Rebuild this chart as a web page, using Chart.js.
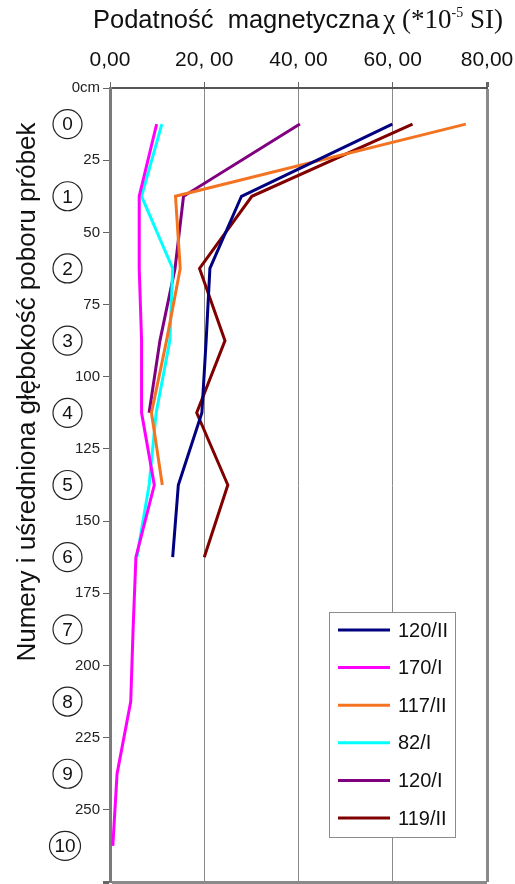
<!DOCTYPE html>
<html>
<head>
<meta charset="utf-8">
<script src="https://cdn.jsdelivr.net/npm/chart.js@4"></script>
<style>
  body { margin: 0; background: #fff; }
  #wrap { width: 515px; height: 884px; position: relative; }
</style>
</head>
<body>
<div id="wrap"><canvas id="chi"></canvas></div>
<script>
// ===== dane =====
const depths = [12.5, 37.5, 62.5, 87.5, 112.5, 137.5, 162.5, 187.5, 212.5, 237.5, 262.5];
const sampleNumbers = ['0', '1', '2', '3', '4', '5', '6', '7', '8', '9', '10'];

const s120II = [59.9, 27.9, 21.2, 20.4, 19.5, 14.5, 13.3];
const s170I  = [9.9, 6.2, 6.2, 6.7, 6.7, 9.4, 5.5, 4.9, 4.4, 1.5, 0.6];
const s117II = [75.5, 13.9, 14.9, 12.0, 8.8, 11.1];
const s82I   = [11.0, 6.7, 13.3, 12.7, 9.8, 8.3, 5.7];
const s120I  = [40.3, 15.6, 13.8, 10.6, 8.3];
const s119II = [64.2, 30.1, 19.0, 24.4, 18.4, 25.0, 20.0];

const seriesNames = ['120/II', '170/I', '117/II', '82/I', '120/I', '119/II'];
const seriesColors = ['#000080', '#ff00ff', '#f47321', '#00ffff', '#800080', '#800000'];

const xTickValues = [0, 20, 40, 60, 80];
const xTickLabels = ['0,00', '20, 00', '40, 00', '60, 00', '80,00'];
const yTickValues = [0, 25, 50, 75, 100, 125, 150, 175, 200, 225, 250, 275];
const yTickLabels = ['0cm', '25', '50', '75', '100', '125', '150', '175', '200', '225', '250', ''];

const SANS = "'Liberation Sans', Arial, sans-serif";
const SERIF = "'Liberation Serif', 'Times New Roman', serif";

function toPoints(vals) {
  return vals.map((v, i) => ({ x: v, y: depths[i] }));
}

// ===== tytuły, kółka z numerami, legenda =====
const decorPlugin = {
  id: 'decor',
  afterDraw(chart) {
    const ctx = chart.ctx;
    const ys = chart.scales.y;
    ctx.save();

    // tytuł u góry
    ctx.fillStyle = '#111';
    ctx.textBaseline = 'alphabetic';
    ctx.textAlign = 'left';
    let x = 93;
    const base = 28;
    ctx.font = '25.5px ' + SANS;
    const t1 = 'Podatność  magnetyczna';
    ctx.fillText(t1, x, base);
    x += ctx.measureText(t1).width + 4;
    ctx.font = '27px ' + SERIF;
    const t2 = 'χ (*10';
    ctx.fillText(t2, x, base);
    x += ctx.measureText(t2).width;
    ctx.font = '14px ' + SERIF;
    ctx.fillText('-5', x, base - 11);
    x += ctx.measureText('-5').width;
    ctx.font = '27px ' + SERIF;
    ctx.fillText(' SI)', x, base);

    // tytuł osi Y
    ctx.save();
    ctx.translate(35, 392);
    ctx.rotate(-Math.PI / 2);
    ctx.font = '26px ' + SANS;
    ctx.textAlign = 'center';
    ctx.textBaseline = 'alphabetic';
    ctx.fillText('Numery i uśredniona głębokość poboru próbek', 0, 0);
    ctx.restore();

    // numery próbek w kółkach
    ctx.font = '19px ' + SANS;
    ctx.textAlign = 'center';
    ctx.textBaseline = 'middle';
    ctx.strokeStyle = '#222';
    ctx.lineWidth = 1.2;
    depths.forEach((d, i) => {
      const cy = ys.getPixelForValue(d);
      const cx = sampleNumbers[i].length > 1 ? 65 : 67.5;
      const rx = sampleNumbers[i].length > 1 ? 15.5 : 14.5;
      ctx.beginPath();
      ctx.ellipse(cx, cy, rx, 14.5, 0, 0, Math.PI * 2);
      ctx.stroke();
      ctx.fillText(sampleNumbers[i], cx, cy + 1);
    });

    // legenda
    const bx = 329, by = 612, bw = 126, bh = 225;
    ctx.fillStyle = '#fff';
    ctx.fillRect(bx, by, bw, bh);
    ctx.strokeStyle = '#8c8c8c';
    ctx.lineWidth = 1;
    ctx.strokeRect(bx + 0.5, by + 0.5, bw, bh);
    ctx.font = '20px ' + SANS;
    ctx.textAlign = 'left';
    ctx.textBaseline = 'middle';
    chart.data.datasets.forEach((ds, i) => {
      const ly = 630 + i * 37.6;
      ctx.strokeStyle = ds.borderColor;
      ctx.lineWidth = 3;
      ctx.beginPath();
      ctx.moveTo(338, ly);
      ctx.lineTo(390, ly);
      ctx.stroke();
      ctx.fillStyle = '#111';
      ctx.fillText(ds.label, 398, ly + 1);
    });

    ctx.restore();
  }
};

const allSeries = [s120II, s170I, s117II, s82I, s120I, s119II];

new Chart(document.getElementById('chi'), {
  type: 'line',
  data: {
    datasets: allSeries.map((vals, i) => ({
      label: seriesNames[i],
      data: toPoints(vals),
      borderColor: seriesColors[i],
      backgroundColor: seriesColors[i],
      borderWidth: 3,
      pointRadius: 0,
      tension: 0,
      fill: false
    }))
  },
  options: {
    indexAxis: 'y',
    responsive: true,
    maintainAspectRatio: false,
    animation: false,
    layout: { padding: { top: 0, right: 28, bottom: 2, left: 0 } },
    plugins: {
      legend: { display: false },
      tooltip: { enabled: false }
    },
    scales: {
      x: {
        type: 'linear',
        position: 'top',
        min: 0,
        max: 80,
        afterFit: s => { s.height = 88; s.paddingLeft = 0; s.paddingRight = 0; },
        afterBuildTicks: s => { s.ticks = xTickValues.map(v => ({ value: v })); },
        ticks: {
          callback: (v) => xTickLabels[xTickValues.indexOf(v)],
          font: { family: SANS, size: 21 },
          color: '#111',
          padding: 9,
          maxRotation: 0
        },
        grid: {
          color: c => c.tick && c.tick.value === 0 ? 'rgba(0,0,0,0)' : '#8a8a8a',
          lineWidth: c => c.tick && c.tick.value === 80 ? 3 : 1,
          tickColor: '#666',
          tickLength: 6
        },
        border: { display: true, color: '#555', width: 2 }
      },
      y: {
        type: 'linear',
        reverse: true,
        min: 0,
        max: 275,
        afterFit: s => { s.width = 110; s.paddingTop = 0; s.paddingBottom = 0; },
        afterBuildTicks: s => { s.ticks = yTickValues.map(v => ({ value: v })); },
        ticks: {
          callback: (v) => yTickLabels[yTickValues.indexOf(v)],
          font: { family: SANS, size: 15 },
          color: '#222',
          padding: 3
        },
        grid: {
          drawOnChartArea: true,
          color: c => c.tick && c.tick.value === 275 ? '#8a8a8a' : 'rgba(0,0,0,0)',
          lineWidth: c => c.tick && c.tick.value === 275 ? 3 : 1,
          tickColor: '#666',
          tickLength: 7
        },
        border: { display: true, color: '#7a7a7a', width: 3 }
      }
    }
  },
  plugins: [decorPlugin]
});
</script>
</body>
</html>
